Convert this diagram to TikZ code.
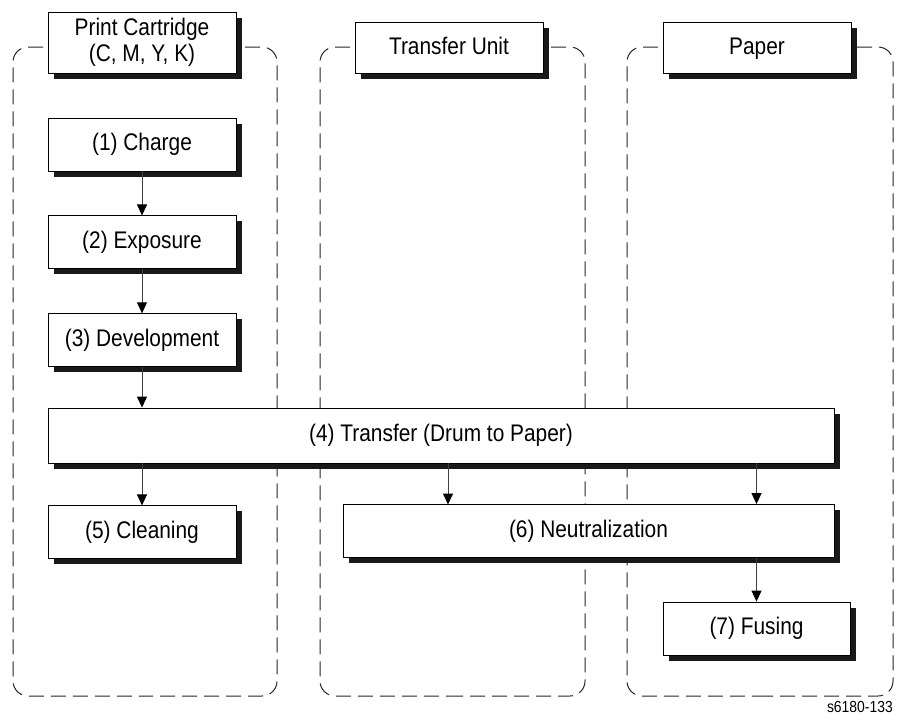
\documentclass[tikz,border=0pt]{standalone}
\usepackage{fontspec}
\setmainfont{Liberation Sans}[FakeStretch=0.87]
\usetikzlibrary{arrows.meta, positioning, shadows}
\tikzset{
  box/.style = {rectangle, draw, fill=white, text centered, inner sep=2pt, line width=0.9pt,
    minimum width=188pt, minimum height=53pt, font=\fontsize{24}{26}\selectfont,
    drop shadow={shadow xshift=5.5pt, shadow yshift=-5.5pt, fill=black!90, opacity=1}},
  block/.style = {box, text height=17pt, text depth=5pt},
  header/.style = {box, minimum height=51pt, align=center},
  frame/.style = {draw=black!85, dash pattern=on 15pt off 7pt, rounded corners=15pt, line width=1pt},
  line/.style = {draw=black!75, -{Triangle[width=10pt,length=11pt,color=black]}, line width=1pt}
}

\begin{document}
\begin{tikzpicture}[x=1pt, y=-1pt, node distance=44pt and 40pt]
    \useasboundingbox (0,0) rectangle (901,715);

    % Columns
    \foreach \xl/\xr/\hl/\hr in {13/277/43/245, 320/585/350/551, 627/893/658/857} {
      \draw[frame] (\hl,47) -- (\xl,47) -- (\xl,696) -- ({(\xl+\xr)/2},696);
      \draw[frame] (\hr,47) -- (\xr,47) -- (\xr,696) -- ({(\xl+\xr)/2},696);
    }

    \node[header, minimum height=61pt] (cart) at (142,42.5) {Print Cartridge\\(C, M, Y, K)};
    \node[header, text height=17pt, text depth=5pt] (unit) at (449,48) {Transfer Unit};
    \node[header, text height=17pt, text depth=5pt] (paper) at (757,48) {Paper};

    % Process steps
    \node[block] (charge) at (142,144.5) {(1) Charge};
    \node[block, below=of charge] (expo) {(2) Exposure};
    \node[block, below=of expo] (devel) {(3) Development};
    \node[block, minimum width=786pt, minimum height=55pt] (transfer) at (441,435.5) {(4) Transfer (Drum to Paper)};
    \node[block, below=42pt of transfer.south -| devel, anchor=north] (clean) {(5) Cleaning};
    \node[block, minimum width=491pt] (neut) at (588.5,531) {(6) Neutralization};
    \node[block, minimum width=187pt] (fuse) at (756.5,628.5) {(7) Fusing};
    \coordinate (n1) at (448,504.5);

    % Arrows
    \path [line] (charge) -- (expo);
    \path [line] (expo) -- (devel);
    \path [line] (devel) -- (devel |- transfer.north);
    \path [line] (transfer.south -| clean) -- (clean);
    \path [line] (transfer.south -| n1) -- (n1);
    \path [line] (transfer.south -| fuse) -- (neut.north -| fuse);
    \path [line] (neut.south -| fuse) -- (fuse);

    \node[anchor=south east, inner sep=0pt, font=\fontsize{16}{18}\selectfont] (tag) at (893,713) {s6180-133};
\end{tikzpicture}
\end{document}
